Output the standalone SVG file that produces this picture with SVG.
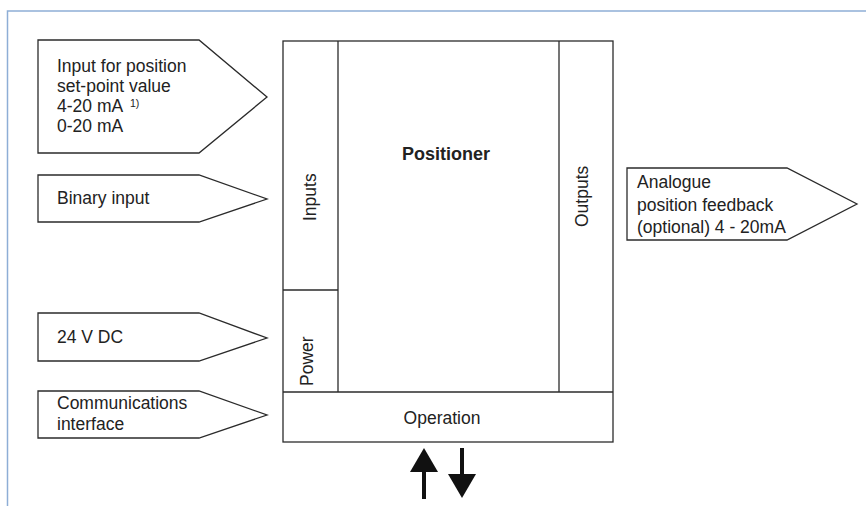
<svg xmlns="http://www.w3.org/2000/svg" width="866" height="506" viewBox="0 0 866 506">
<style>
.sh{fill:#fff;stroke:#2b2b2b;stroke-width:1.3}
.ln{fill:none;stroke:#2b2b2b;stroke-width:1.3}
.t{font-family:"Liberation Sans",Arial,sans-serif;font-size:17.5px;fill:#222}
.b{font-weight:bold;font-size:18px}
.sup{font-size:10.5px}
.frame{fill:none;stroke:#8eaed6;stroke-width:1.5}
</style>
<rect width="866" height="506" fill="#fff"/>
<path class="frame" d="M866,11 H7.5 V506"/>
<g id="input-setpoint">
<polygon class="sh" points="38,40 199,40 267,97 199,153 38,153"/>
<text class="t" x="57" y="72">Input for position</text>
<text class="t" x="57" y="92">set-point value</text>
<text class="t" x="57" y="112">4-20 mA</text>
<text class="t sup" x="130" y="107">1)</text>
<text class="t" x="57" y="132">0-20 mA</text>
</g>
<g id="binary-input">
<polygon class="sh" points="38,175 199,175 267,199 199,222 38,222"/>
<text class="t" x="57" y="204">Binary input</text>
</g>
<g id="power-supply">
<polygon class="sh" points="38,313 199,313 267,338 199,361 38,361"/>
<text class="t" x="57" y="343">24 V DC</text>
</g>
<g id="communications">
<polygon class="sh" points="38,391 199,391 267,415 199,438 38,438"/>
<text class="t" x="57" y="409">Communications</text>
<text class="t" x="57" y="430">interface</text>
</g>
<g id="positioner">
<rect class="sh" x="283" y="41" width="330" height="401"/>
<text class="t b" x="446" y="160" text-anchor="middle">Positioner</text>
</g>
<g id="inputs">
<path class="ln" d="M338,41 V392 M283,290 H338"/>
<text class="t" transform="translate(316,221) rotate(-90)">Inputs</text>
</g>
<g id="power">
<text class="t" transform="translate(313,386) rotate(-90)">Power</text>
</g>
<g id="outputs">
<path class="ln" d="M559,41 V392"/>
<text class="t" transform="translate(588,227) rotate(-90)">Outputs</text>
</g>
<g id="operation">
<path class="ln" d="M283,392 H613"/>
<text class="t" x="442" y="424" text-anchor="middle">Operation</text>
</g>
<g id="analogue-feedback">
<polygon class="sh" points="627,168 787,168 857,204 787,240 627,240"/>
<text class="t" x="637" y="188">Analogue</text>
<text class="t" x="637" y="211">position feedback</text>
<text class="t" x="637" y="233">(optional) 4 - 20mA</text>
</g>
<g id="connectors">
<line x1="424" y1="471" x2="424" y2="499" stroke="#111" stroke-width="4"/>
<polygon points="410,472 438,472 424,448" fill="#111"/>
<line x1="462" y1="448" x2="462" y2="475" stroke="#111" stroke-width="4"/>
<polygon points="448,474 476,474 462,498" fill="#111"/>
</g>
</svg>
